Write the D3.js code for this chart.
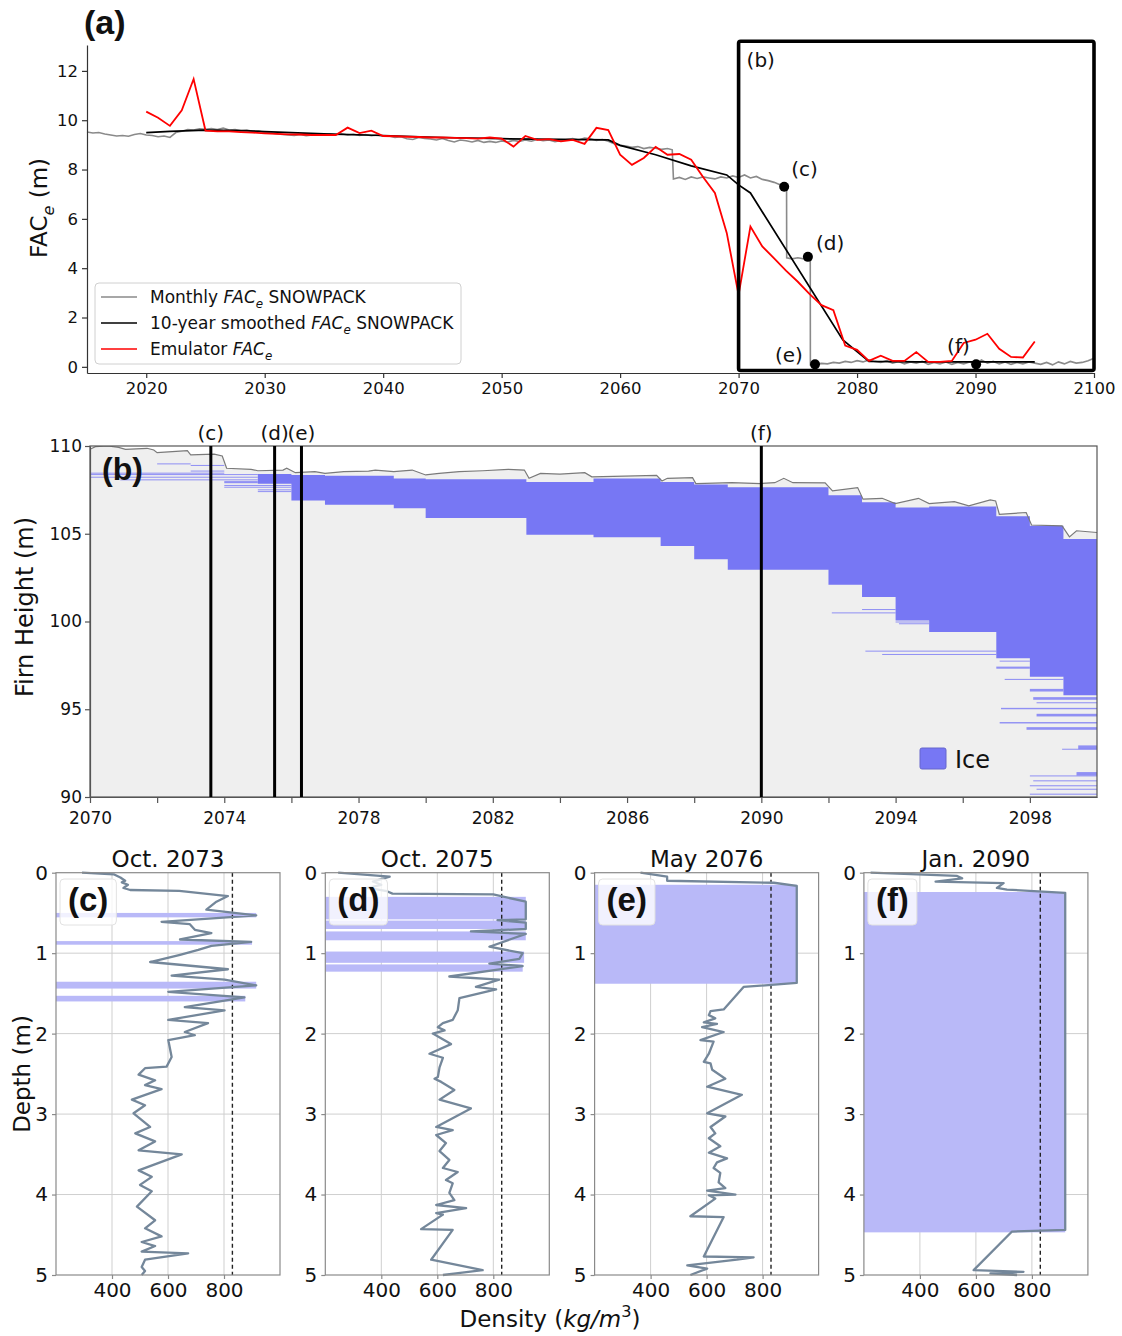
<!DOCTYPE html>
<html><head><meta charset="utf-8">
<script src="https://cdn.jsdelivr.net/npm/d3@7/dist/d3.min.js"></script>
<style>
body{margin:0;background:#fff;}
svg text{font-family:"DejaVu Sans",sans-serif;fill:#111;}
</style></head><body>
<svg id="chart" width="1122" height="1336" xmlns="http://www.w3.org/2000/svg"></svg>
<script>
// ---------------- DATA ----------------
const aXTicks = [2020,2030,2040,2050,2060,2070,2080,2090,2100];
const aYTicks = [0,2,4,6,8,10,12];
const bXTicks = [2070,2072,2074,2076,2078,2080,2082,2084,2086,2088,2090,2092,2094,2096,2098];
const bYTicks = [90,95,100,105,110];
const densTicks = [400,600,800];
const depthTicks = [0,1,2,3,4,5];

// Monthly FACe SNOWPACK (m)
const monthlyFAC = [
[2015.0,9.52],[2015.5,9.48],[2016.0,9.50],[2016.5,9.44],[2017.0,9.40],[2017.5,9.36],[2018.0,9.38],[2018.5,9.35],[2019.0,9.42],[2019.5,9.46],
[2020.0,9.40],[2020.5,9.38],[2021.0,9.33],[2021.5,9.36],[2022.0,9.30],[2022.5,9.50],[2023.0,9.55],[2023.5,9.62],[2024.0,9.60],[2024.5,9.65],
[2025.0,9.63],[2025.5,9.66],[2026.0,9.62],[2026.5,9.68],[2027.0,9.60],[2027.5,9.62],[2028.0,9.57],[2028.5,9.60],[2029.0,9.54],[2029.5,9.56],
[2030.0,9.50],[2030.5,9.48],[2031.0,9.45],[2031.5,9.42],[2032.0,9.40],[2032.5,9.38],[2033.0,9.42],[2033.5,9.37],[2034.0,9.40],[2034.5,9.43],
[2035.0,9.40],[2035.5,9.44],[2036.0,9.41],[2036.5,9.45],[2037.0,9.40],[2037.5,9.43],[2038.0,9.38],[2038.5,9.42],[2039.0,9.37],[2039.5,9.40],
[2040.0,9.35],[2040.5,9.36],[2041.0,9.30],[2041.5,9.33],[2042.0,9.25],[2042.5,9.22],[2043.0,9.30],[2043.5,9.26],[2044.0,9.24],[2044.5,9.20],
[2045.0,9.26],[2045.5,9.18],[2046.0,9.12],[2046.5,9.20],[2047.0,9.17],[2047.5,9.12],[2048.0,9.18],[2048.5,9.10],[2049.0,9.14],[2049.5,9.10],
[2050.0,9.16],[2050.5,9.12],[2051.0,9.18],[2051.5,9.14],[2052.0,9.20],[2052.5,9.15],[2053.0,9.22],[2053.5,9.17],[2054.0,9.20],[2054.5,9.13],
[2055.0,9.18],[2055.5,9.22],[2056.0,9.26],[2056.5,9.20],[2057.0,9.28],[2057.5,9.25],[2058.0,9.18],[2058.5,9.22],[2059.0,9.15],[2059.5,9.05],
[2060.0,8.98],[2060.5,8.95],[2061.0,8.90],[2061.5,8.93],[2062.0,8.85],[2062.5,8.90],[2063.0,8.86],[2063.5,8.82],[2064.0,8.85],[2064.4,8.80],
[2064.5,7.62],[2065.0,7.68],[2065.5,7.60],[2066.0,7.70],[2066.5,7.64],[2067.0,7.70],[2067.5,7.66],[2068.0,7.62],[2068.5,7.70],[2069.0,7.66],
[2069.5,7.74],[2070.0,7.68],[2070.5,7.78],[2071.0,7.66],[2071.5,7.72],[2072.0,7.60],[2072.5,7.55],[2073.0,7.48],[2073.4,7.40],[2073.85,7.30],
[2074.05,7.28],[2074.06,4.42],[2074.5,4.38],[2075.0,4.42],[2075.5,4.38],[2075.85,4.46],[2076.05,4.46],[2076.06,0.08],[2076.5,0.10],
[2077.0,0.14],[2077.5,0.12],[2078.0,0.18],[2078.5,0.15],[2079.0,0.22],[2079.5,0.18],[2080.0,0.25],[2080.5,0.20],[2081.0,0.28],[2081.5,0.22],
[2082.0,0.18],[2082.5,0.25],[2083.0,0.15],[2083.5,0.22],[2084.0,0.12],[2084.5,0.20],[2085.0,0.15],[2085.5,0.22],[2086.0,0.10],[2086.5,0.18],
[2087.0,0.12],[2087.5,0.20],[2088.0,0.10],[2088.5,0.18],[2089.0,0.12],[2089.5,0.20],[2090.0,0.10],[2090.5,0.28],[2091.0,0.15],[2091.5,0.22],
[2092.0,0.12],[2092.5,0.20],[2093.0,0.10],[2093.5,0.18],[2094.0,0.12],[2094.5,0.20],[2095.0,0.15],[2095.5,0.10],[2096.0,0.18],[2096.5,0.08],
[2097.0,0.20],[2097.5,0.12],[2098.0,0.22],[2098.5,0.15],[2099.0,0.18],[2099.5,0.25],[2100.0,0.35]
];
// 10-year smoothed FACe SNOWPACK (m)
const smoothedFAC = [
[2020,9.50],[2022,9.55],[2025,9.60],[2028,9.58],[2030,9.54],[2035,9.45],[2040,9.38],[2045,9.30],[2050,9.25],[2055,9.22],[2059,9.20],
[2060,8.98],[2063,8.60],[2066,8.15],[2069,7.78],[2070,7.38],[2071,7.05],[2078.8,1.09],[2080,0.62],[2081,0.22],[2085,0.20],[2090,0.20],[2095,0.20]
];
// Emulator FACe (m), annual
const emulatorFAC = [
[2020,10.35],[2021,10.10],[2022,9.77],[2023,10.40],[2024,11.67],[2025,9.58],[2026,9.55],[2027,9.55],[2028,9.52],[2029,9.50],
[2030,9.47],[2031,9.45],[2032,9.43],[2033,9.42],[2034,9.40],[2035,9.40],[2036,9.40],[2037,9.70],[2038,9.48],[2039,9.58],
[2040,9.36],[2041,9.35],[2042,9.33],[2043,9.32],[2044,9.30],[2045,9.30],[2046,9.28],[2047,9.27],[2048,9.25],[2049,9.30],
[2050,9.25],[2051,8.93],[2052,9.36],[2053,9.20],[2054,9.23],[2055,9.14],[2056,9.20],[2057,9.04],[2058,9.69],[2059,9.60],
[2060,8.60],[2061,8.19],[2062,8.47],[2063,8.92],[2064,8.60],[2065,8.63],[2066,8.40],[2067,7.70],[2068,7.05],[2069,5.43],
[2070,2.92],[2071,5.69],[2072,4.88],[2073,4.40],[2074,3.90],[2075,3.45],[2076,2.95],[2077,2.50],[2078,2.30],[2079,0.86],
[2080,0.69],[2081,0.24],[2082,0.45],[2083,0.24],[2084,0.24],[2085,0.60],[2086,0.20],[2087,0.20],[2088,0.24],[2089,0.97],
[2090,1.10],[2091,1.34],[2092,0.73],[2093,0.40],[2094,0.38],[2095,1.03]
];
const profileDots = [[2073.85,7.30,"(c)"],[2075.85,4.46,"(d)"],[2076.45,0.10,"(e)"],[2090.05,0.10,"(f)"]];
const zoomBox = [2070,2100,-0.15,13.2];

// Panel (b): firn surface height (m)
const firnSurface = [
[2070.0,109.81],[2070.16,109.96],[2070.53,110.0],[2070.85,109.92],[2071.06,109.81],[2071.7,109.87],[2071.9,109.77],[2072.0,109.62],
[2072.45,109.68],[2072.9,109.73],[2073.0,109.49],[2073.7,109.54],[2073.94,109.43],[2074.07,108.73],[2074.8,108.67],[2075.0,108.59],
[2075.75,108.63],[2075.86,108.73],[2076.12,108.48],[2076.7,108.54],[2077.0,108.44],[2077.56,108.54],[2078.3,108.57],[2078.5,108.63],
[2079.05,108.54],[2079.6,108.63],[2080.0,108.35],[2080.4,108.44],[2081.0,108.54],[2081.7,108.59],[2082.46,108.67],[2082.94,108.63],
[2083.08,108.16],[2083.42,108.44],[2084.0,108.40],[2084.74,108.48],[2084.95,108.24],[2086.88,108.33],[2087.04,108.01],[2087.2,108.16],
[2087.95,108.2],[2088.05,107.86],[2089.12,107.91],[2089.98,107.86],[2090.4,107.91],[2090.67,108.16],[2090.94,107.91],[2091.9,107.9],
[2092.12,107.44],[2092.87,107.63],[2093.03,106.97],[2093.6,107.02],[2093.99,106.72],[2094.68,107.02],[2095.0,106.72],[2095.75,106.83],
[2096.18,106.59],[2096.82,106.93],[2096.98,106.87],[2097.09,106.11],[2097.89,106.21],[2098.05,105.5],[2098.96,105.45],[2099.18,104.82],
[2099.39,105.17],[2100.0,105.07]
];
// Ice body: [year (step start), top height, bottom height]
const iceSteps = [
[2075.0,108.40,107.85],[2076.0,108.35,106.90],[2077.0,108.30,106.65],[2079.05,108.15,106.45],[2080.0,108.10,105.90],
[2083.0,107.95,104.95],[2085.0,108.15,104.80],[2087.0,107.95,104.30],[2088.0,107.80,103.55],[2089.0,107.65,102.95],
[2092.0,107.20,102.10],[2093.0,106.80,101.40],[2094.0,106.50,100.05],[2095.0,106.55,99.40],[2097.0,106.00,97.90],
[2098.0,105.45,96.85],[2099.0,104.70,95.80],[2100.0,104.70,95.80]
];
// Thin ice layers: [year start, year end, top height, thickness]
const thinIce = [
[2072.0,2073.0,109.01,0.03],[2073.0,2074.0,108.92,0.03],[2073.0,2074.0,108.60,0.04],[2070.0,2074.0,108.48,0.03],
[2070.0,2075.0,108.40,0.04],[2070.0,2075.0,108.25,0.04],[2070.9,2075.0,108.10,0.04],[2074.0,2075.0,108.00,0.12],
[2074.0,2076.0,107.78,0.05],[2074.0,2076.0,107.68,0.05],[2075.0,2076.0,107.53,0.05],[2075.0,2076.0,107.43,0.05],
[2092.1,2094.0,100.52,0.05],[2093.0,2094.0,100.71,0.04],[2094.0,2095.0,100.00,0.05],[2094.1,2095.0,99.90,0.04],
[2093.1,2097.0,98.34,0.04],[2093.6,2097.0,98.15,0.03],[2097.0,2098.0,97.43,0.12],[2097.1,2098.0,97.77,0.05],
[2097.25,2099.0,96.73,0.06],[2098.0,2099.0,96.16,0.15],[2098.1,2100.0,95.69,0.15],[2098.2,2100.0,95.40,0.06],
[2097.14,2100.0,95.08,0.08],[2098.2,2100.0,94.74,0.15],[2097.1,2100.0,94.27,0.08],[2097.9,2100.0,93.98,0.15],
[2099.44,2100.0,92.94,0.22],[2098.96,2100.0,92.75,0.05],[2099.39,2100.0,91.42,0.20],[2098.0,2100.0,91.23,0.05],
[2098.1,2100.0,90.95,0.05],[2098.0,2100.0,90.67,0.06],[2098.2,2100.0,90.47,0.05],[2098.0,2100.0,90.19,0.06]
];
const profileTimes = [[2073.6,"(c)"],[2075.5,"(d)"],[2076.3,"(e)"],[2090.0,"(f)"]];

// Density profiles: [depth (m), density (kg/m3)]
const profileC = [[0,293],[0.02,406],[0.06,430],[0.10,447],[0.12,435],[0.15,457],[0.19,441],[0.215,465],[0.225,640],[0.29,814],
[0.36,773],[0.46,737],[0.53,915],[0.61,577],[0.64,678],[0.71,696],[0.75,755],[0.83,643],[0.86,897],[0.91,755],[0.96,708],
[1.02,643],[1.11,536],[1.20,814],[1.28,613],[1.33,802],[1.40,915],[1.48,601],[1.55,873],[1.67,660],[1.71,802],[1.83,601],
[1.87,743],[1.98,660],[2.02,696],[2.08,601],[2.29,613],[2.41,595],[2.43,518],[2.51,495],[2.58,554],[2.64,518],[2.69,577],
[2.82,471],[2.89,518],[2.99,477],[3.16,536],[3.24,483],[3.34,554],[3.45,495],[3.50,649],[3.70,495],[3.78,542],[3.88,500],
[3.96,542],[4.15,489],[4.32,554],[4.42,518],[4.52,577],[4.59,506],[4.64,554],[4.71,506],[4.73,672],[4.81,518],[4.90,506],
[4.95,518],[5.0,506]];
const profileD = [[0,246],[0.05,430],[0.11,370],[0.15,400],[0.19,352],[0.23,420],[0.26,440],[0.27,800],[0.36,916],[0.58,916],
[0.59,815],[0.62,916],[0.70,916],[0.73,720],[0.76,916],[0.92,786],[1.0,905],[1.07,893],[1.13,786],[1.16,905],[1.29,643],
[1.33,821],[1.42,738],[1.45,810],[1.56,679],[1.71,673],[1.83,655],[1.87,620],[1.92,602],[1.96,626],[2.0,584],[2.13,649],
[2.25,572],[2.30,620],[2.42,608],[2.54,602],[2.56,590],[2.60,614],[2.70,661],[2.82,608],[2.93,720],[3.16,596],[3.20,655],
[3.26,596],[3.36,631],[3.46,608],[3.57,643],[3.67,620],[3.72,673],[3.82,631],[3.86,655],[3.98,643],[4.07,661],[4.13,596],
[4.17,703],[4.23,596],[4.25,620],[4.43,542],[4.44,655],[4.81,578],[4.94,762],[4.98,667],[5.0,620]];
const profileE = [[0,364],[0.05,459],[0.10,459],[0.125,840],[0.165,922],[1.37,922],[1.42,732],[1.70,661],[1.72,614],[1.77,608],
[1.81,631],[1.86,590],[1.88,637],[1.92,584],[1.98,661],[2.08,578],[2.10,625],[2.25,608],[2.35,590],[2.37,614],[2.45,620],
[2.56,667],[2.66,602],[2.76,726],[2.99,602],[3.03,667],[3.16,614],[3.24,631],[3.30,608],[3.40,649],[3.48,608],[3.55,673],
[3.60,637],[3.67,625],[3.73,649],[3.85,643],[3.92,667],[3.95,602],[4.0,703],[4.01,608],[4.05,631],[4.27,542],[4.28,661],
[4.77,590],[4.78,768],[4.81,708],[4.88,531],[4.92,602],[5.0,542]];
const profileF = [[0,224],[0.04,533],[0.07,551],[0.11,456],[0.13,699],[0.19,675],[0.21,711],[0.25,919],[4.44,919],[4.46,729],
[4.94,592],[4.96,770],[4.98,652],[5.0,747]];
// Ice layers in profiles: [top depth, bottom depth, density at edge]
const iceC = [[0.50,0.555,915],[0.85,0.895,900],[1.355,1.44,915],[1.53,1.60,876]];
const iceD = [[0.30,0.58,916],[0.595,0.70,916],[0.73,0.84,916],[0.98,1.12,910],[1.14,1.23,905]];
const iceE = [[0.15,1.38,922]];
const iceF = [[0.24,4.47,919]];
const profileTitles = ["Oct. 2073","Oct. 2075","May 2076","Jan. 2090"];
const profileLabels = ["(c)","(d)","(e)","(f)"];
const iceThreshold = 830;

// ---------------- DRAWING ----------------
const svg = d3.select("#chart");
const FONT = '"DejaVu Sans", sans-serif';
const BOLD = '"Liberation Sans", Arial, sans-serif';

function styleAxis(g, col, fs){
  g.attr("font-family", FONT).attr("font-size", fs);
  g.select(".domain").attr("stroke", col).attr("stroke-width", 1.2);
  g.selectAll(".tick line").attr("stroke", col).attr("stroke-width", 1.2);
  g.selectAll(".tick text").attr("fill", "#111");
}
function richText(sel, parts, fs){
  parts.forEach(p=>{
    const t = sel.append("tspan").text(p.t);
    if(p.it) t.attr("font-style","italic");
    if(p.sub) t.attr("font-size", fs*0.7).attr("dy", fs*0.3);
    if(p.sup) t.attr("font-size", fs*0.7).attr("dy", -fs*0.45);
    if(p.back) t.attr("dy", p.back);
  });
}

// ===== Panel (a) =====
const xa = d3.scaleLinear().domain([2015,2100]).range([87,1094]);
const ya = d3.scaleLinear().domain([-0.25,13.05]).range([373,45]);
const lineA = d3.line().x(d=>xa(d[0])).y(d=>ya(d[1]));
const pa = svg.append("g");

pa.append("path").datum(monthlyFAC).attr("d",lineA).attr("fill","none").attr("stroke","#8a8a8a").attr("stroke-width",1.6);
pa.append("path").datum(smoothedFAC).attr("d",lineA).attr("fill","none").attr("stroke","#000").attr("stroke-width",1.7);
pa.append("path").datum(emulatorFAC).attr("d",lineA).attr("fill","none").attr("stroke","#ff0000").attr("stroke-width",1.8);

pa.selectAll("circle.pd").data(profileDots).join("circle").attr("class","pd")
  .attr("cx",d=>xa(d[0])).attr("cy",d=>ya(d[1])).attr("r",5).attr("fill","#000");
const dotLabelOff = [[7,-11],[8,-7],[-40,-2],[-29,-11]];
pa.selectAll("text.pdl").data(profileDots).join("text").attr("class","pdl")
  .attr("x",(d,i)=>xa(d[0])+dotLabelOff[i][0]).attr("y",(d,i)=>ya(d[1])+dotLabelOff[i][1])
  .attr("font-size",20).text(d=>d[2]);

pa.append("rect").attr("x",xa(zoomBox[0])).attr("y",ya(zoomBox[3]))
  .attr("width",xa(zoomBox[1])-xa(zoomBox[0])).attr("height",ya(zoomBox[2])-ya(zoomBox[3]))
  .attr("fill","none").attr("stroke","#000").attr("stroke-width",3.6).attr("rx",2);
pa.append("text").attr("x",xa(zoomBox[0])+8).attr("y",ya(zoomBox[3])+26).attr("font-size",20).text("(b)");

const axA = pa.append("g").attr("transform","translate(0,373)")
  .call(d3.axisBottom(xa).tickValues(aXTicks).tickFormat(d3.format("d")).tickSize(5).tickSizeOuter(0).tickPadding(4));
styleAxis(axA,"#333",16.5);
const ayA = pa.append("g").attr("transform","translate(87,0)")
  .call(d3.axisLeft(ya).tickValues(aYTicks).tickSize(5).tickSizeOuter(0).tickPadding(4));
styleAxis(ayA,"#333",16.5);

const ylabA = pa.append("text").attr("transform","translate(47,208) rotate(-90)").attr("text-anchor","middle").attr("font-size",23);
richText(ylabA,[{t:"FAC"},{t:"e",sub:true,it:true},{t:" (m)",back:-23*0.3}],23);

// legend
const legA = pa.append("g");
legA.append("rect").attr("x",95).attr("y",283).attr("width",366).attr("height",81).attr("rx",4)
  .attr("fill","#fff").attr("fill-opacity",0.85).attr("stroke","#d0d0d0");
const legItems = [
  {c:"#8a8a8a", parts:[{t:"Monthly "},{t:"FAC",it:true},{t:"e",it:true,sub:true},{t:" SNOWPACK",back:-17*0.3}]},
  {c:"#000", parts:[{t:"10-year smoothed "},{t:"FAC",it:true},{t:"e",it:true,sub:true},{t:" SNOWPACK",back:-17*0.3}]},
  {c:"#ff0000", parts:[{t:"Emulator "},{t:"FAC",it:true},{t:"e",it:true,sub:true}]}
];
legItems.forEach((it,i)=>{
  const yy = 297 + i*26;
  legA.append("line").attr("x1",101).attr("x2",137).attr("y1",yy).attr("y2",yy).attr("stroke",it.c).attr("stroke-width",1.7);
  const t = legA.append("text").attr("x",150).attr("y",yy+6).attr("font-size",17);
  richText(t,it.parts,17);
});
svg.append("text").attr("x",84).attr("y",34).attr("font-size",34).attr("font-weight","bold").style("font-family",BOLD).text("(a)");

// ===== Panel (b) =====
const xb = d3.scaleLinear().domain([2070,2100]).range([90,1097]);
const yb = d3.scaleLinear().domain([90,110]).range([797,446]);
const pb = svg.append("g");
pb.append("clipPath").attr("id","clipb").append("rect").attr("x",90).attr("y",446).attr("width",1007).attr("height",351);
const pbc = pb.append("g").attr("clip-path","url(#clipb)");
pbc.append("path").datum(firnSurface)
  .attr("d",d3.area().x(d=>xb(d[0])).y0(yb(90)).y1(d=>yb(d[1])))
  .attr("fill","#efefef");
pbc.append("path").datum(iceSteps)
  .attr("d",d3.area().curve(d3.curveStepAfter).x(d=>xb(d[0])).y0(d=>yb(d[2])).y1(d=>yb(d[1])))
  .attr("fill","#7777f4");
pbc.selectAll("rect.ti").data(thinIce).join("rect").attr("class","ti")
  .attr("x",d=>xb(d[0])).attr("width",d=>xb(d[1])-xb(d[0]))
  .attr("y",d=>yb(d[2])).attr("height",d=>Math.max(1,yb(d[2]-d[3])-yb(d[2])))
  .attr("fill","#7f7ff4").attr("opacity",0.85);
pbc.append("path").datum(firnSurface)
  .attr("d",d3.line().x(d=>xb(d[0])).y(d=>yb(d[1])))
  .attr("fill","none").attr("stroke","#7a7a7a").attr("stroke-width",1.2);
pb.append("rect").attr("x",90).attr("y",446).attr("width",1007).attr("height",351)
  .attr("fill","none").attr("stroke","#555").attr("stroke-width",1.2);
pb.selectAll("line.pt").data(profileTimes).join("line").attr("class","pt")
  .attr("x1",d=>xb(d[0])).attr("x2",d=>xb(d[0])).attr("y1",yb(110)).attr("y2",yb(90))
  .attr("stroke","#000").attr("stroke-width",3);
pb.selectAll("text.ptl").data(profileTimes).join("text").attr("class","ptl")
  .attr("x",d=>xb(d[0])).attr("y",440).attr("text-anchor","middle").attr("font-size",20).text(d=>d[1]);

const axB = pb.append("g").attr("transform","translate(0,797)")
  .call(d3.axisBottom(xb).tickValues(bXTicks).tickFormat(d=>((d-2070)%4===0)?String(d):"").tickSize(6).tickSizeOuter(0).tickPadding(9));
styleAxis(axB,"#555",17);
const ayB = pb.append("g").attr("transform","translate(90,0)")
  .call(d3.axisLeft(yb).tickValues(bYTicks).tickSize(5).tickSizeOuter(0).tickPadding(3));
styleAxis(ayB,"#555",17);
pb.append("text").attr("transform","translate(33,607) rotate(-90)").attr("text-anchor","middle").attr("font-size",24).text("Firn Height (m)");
pb.append("text").attr("x",102).attr("y",480).attr("font-size",32).attr("font-weight","bold").style("font-family",BOLD).text("(b)");
pb.append("rect").attr("x",920).attr("y",748).attr("width",26).attr("height",21).attr("rx",2)
  .attr("fill","#7777f4").attr("stroke","#6666cc").attr("stroke-width",1);
pb.append("text").attr("x",955).attr("y",768).attr("font-size",24).text("Ice");

// ===== Panels (c)-(f) =====
const profiles = [profileC,profileD,profileE,profileF];
const ices = [iceC,iceD,iceE,iceF];
const pw = 224, top0 = 872.7, bot0 = 1275;
profiles.forEach((prof,i)=>{
  const left = 56 + i*269.3;
  const x = d3.scaleLinear().domain([200,1000]).range([left,left+pw]);
  const y = d3.scaleLinear().domain([0,5]).range([top0,bot0]);
  const g = svg.append("g");
  g.selectAll("line.gx").data(densTicks).join("line").attr("x1",d=>x(d)).attr("x2",d=>x(d))
    .attr("y1",top0).attr("y2",bot0).attr("stroke","#cfcfcf").attr("stroke-width",1);
  g.selectAll("line.gy").data(depthTicks.slice(1,5)).join("line").attr("y1",d=>y(d)).attr("y2",d=>y(d))
    .attr("x1",left).attr("x2",left+pw).attr("stroke","#cfcfcf").attr("stroke-width",1);
  g.selectAll("rect.ice").data(ices[i]).join("rect").attr("x",x(200)).attr("width",d=>x(d[2])-x(200))
    .attr("y",d=>y(d[0])).attr("height",d=>y(d[1])-y(d[0])).attr("fill","#b9b9f8");
  g.append("line").attr("x1",x(iceThreshold)).attr("x2",x(iceThreshold)).attr("y1",top0).attr("y2",bot0)
    .attr("stroke","#222").attr("stroke-width",1.4).attr("stroke-dasharray","4,3");
  g.append("path").datum(prof).attr("d",d3.line().x(d=>x(d[1])).y(d=>y(d[0])))
    .attr("fill","none").attr("stroke","#74879a").attr("stroke-width",2.3).attr("stroke-linejoin","round");
  g.append("rect").attr("x",left).attr("y",top0).attr("width",pw).attr("height",bot0-top0)
    .attr("fill","none").attr("stroke","#8a8a8a").attr("stroke-width",1.2);
  const ax = g.append("g").attr("transform",`translate(0,${bot0})`)
    .call(d3.axisBottom(x).tickValues(densTicks).tickFormat(d3.format("d")).tickSize(4).tickSizeOuter(0).tickPadding(4));
  styleAxis(ax,"#8a8a8a",20);
  ax.select(".domain").remove();
  const ay = g.append("g").attr("transform",`translate(${left},0)`)
    .call(d3.axisLeft(y).tickValues(depthTicks).tickFormat(d3.format("d")).tickSize(4).tickSizeOuter(0).tickPadding(4));
  styleAxis(ay,"#8a8a8a",20);
  ay.select(".domain").remove();
  g.append("text").attr("x",left+pw/2).attr("y",867).attr("text-anchor","middle").attr("font-size",23).text(profileTitles[i]);
  const lt = g.append("text").attr("x",left+12).attr("y",911).attr("font-size",33).attr("font-weight","bold")
    .style("font-family",BOLD).text(profileLabels[i]);
  const bb = lt.node().getBBox();
  g.insert("rect", () => lt.node()).attr("x",left+4).attr("y",879).attr("width",bb.width+16).attr("height",46).attr("rx",4)
    .attr("fill","#fff").attr("fill-opacity",0.8).attr("stroke","#e2e2e2");
});
svg.append("text").attr("transform","translate(30,1074) rotate(-90)").attr("text-anchor","middle").attr("font-size",23).text("Depth (m)");
const dl = svg.append("text").attr("x",550).attr("y",1327).attr("text-anchor","middle").attr("font-size",23);
richText(dl,[{t:"Density ("},{t:"kg/m",it:true},{t:"3",sup:true},{t:")",back:23*0.45}],23);
</script></body></html>
